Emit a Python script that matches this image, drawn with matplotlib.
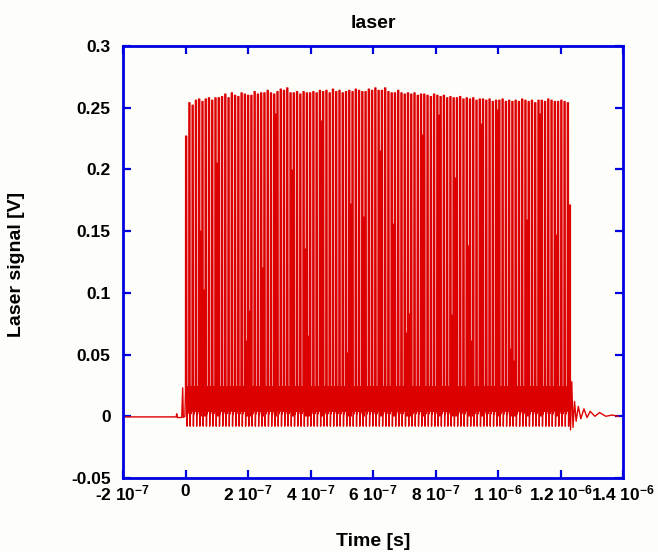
import matplotlib
matplotlib.use("Agg")
import matplotlib.pyplot as plt

plt.rcParams['font.family'] = ['Liberation Sans', 'DejaVu Sans']
plt.rcParams['mathtext.fontset'] = 'custom'
plt.rcParams['mathtext.rm'] = 'Liberation Sans:bold'
plt.rcParams['mathtext.it'] = 'Liberation Sans:bold'
plt.rcParams['mathtext.bf'] = 'Liberation Sans:bold'
plt.rcParams['mathtext.default'] = 'rm'

# ---------------- data ----------------
x_ticks = [-2e-7, 0, 2e-7, 4e-7, 6e-7, 8e-7, 1e-6, 1.2e-6, 1.4e-6]
x_tick_labels = [r'-2 10$^{-7}$', '0', r'2 10$^{-7}$', r'4 10$^{-7}$', r'6 10$^{-7}$',
                 r'8 10$^{-7}$', r'1 10$^{-6}$', r'1.2 10$^{-6}$', r'1.4 10$^{-6}$']
y_ticks = [-0.05, 0, 0.05, 0.1, 0.15, 0.2, 0.25, 0.3]
y_tick_labels = ['-0.05', '0', '0.05', '0.1', '0.15', '0.2', '0.25', '0.3']

pulse_start = 0.0
pulse_period = 10.44e-9
pulse_peaks = [
    0.227, 0.254, 0.252, 0.256, 0.257, 0.255, 0.257, 0.258, 0.256, 0.258,
    0.258, 0.259, 0.261, 0.258, 0.262, 0.260, 0.259, 0.262, 0.261, 0.260,
    0.260, 0.263, 0.261, 0.262, 0.262, 0.264, 0.262, 0.261, 0.263, 0.265,
    0.264, 0.266, 0.262, 0.262, 0.263, 0.261, 0.263, 0.262, 0.262, 0.263,
    0.262, 0.264, 0.263, 0.264, 0.262, 0.265, 0.263, 0.264, 0.262, 0.263,
    0.264, 0.263, 0.265, 0.264, 0.263, 0.263, 0.265, 0.264, 0.266, 0.264,
    0.264, 0.266, 0.263, 0.262, 0.262, 0.264, 0.262, 0.261, 0.262, 0.261,
    0.262, 0.260, 0.261, 0.261, 0.260, 0.259, 0.261, 0.260, 0.259, 0.260,
    0.258, 0.259, 0.258, 0.258, 0.259, 0.257, 0.258, 0.257, 0.258, 0.256,
    0.257, 0.257, 0.256, 0.257, 0.255, 0.256, 0.256, 0.257, 0.255, 0.256,
    0.255, 0.256, 0.255, 0.257, 0.256, 0.255, 0.256, 0.254, 0.256, 0.256,
    0.255, 0.257, 0.256, 0.255, 0.255, 0.256, 0.255, 0.254]
# lower secondary spikes (pulse index, level)
shoulder_index = [4, 5, 9, 18, 19, 23, 27, 32, 36, 37, 41, 49, 50, 54, 59, 63,
                  67, 68, 72, 77, 81, 82, 86, 87, 90, 95, 99, 100, 104, 108, 113, 117]
shoulder_level = [0.151, 0.103, 0.206, 0.062, 0.086, 0.121, 0.246, 0.200, 0.136, 0.066,
                  0.240, 0.052, 0.173, 0.162, 0.216, 0.157, 0.068, 0.084, 0.229, 0.245,
                  0.083, 0.194, 0.139, 0.062, 0.238, 0.249, 0.055, 0.046, 0.160, 0.246,
                  0.148, 0.172]
dip_level = -0.008
ring_levels = [0.022, 0.002, 0.024, 0.004]

pre_t = [-2.0e-7, -3.0e-8, -2.8e-8, -2.6e-8, -1.2e-8, -9e-9, -7e-9, -2e-9]
pre_v = [-0.0005, -0.0005, 0.002, -0.001, -0.001, 0.023, -0.001, 0.0]
post_t = [1.2290e-6, 1.2320e-6, 1.2360e-6, 1.2400e-6, 1.2450e-6, 1.2500e-6, 1.2570e-6,
          1.2650e-6, 1.2750e-6, 1.2850e-6, 1.2950e-6, 1.3100e-6, 1.3250e-6, 1.3450e-6,
          1.3650e-6, 1.3850e-6]
post_v = [0.031, -0.011, 0.028, -0.009, 0.012, -0.004, 0.008, -0.002, 0.006, -0.001,
          0.004, 0.0, 0.003, 0.0, 0.001, 0.0]

# ---------------- build waveform ----------------
shape_fracs = [0.0, 0.04, 0.36, 0.42, 0.56, 0.68, 0.80, 0.92]
t = list(pre_t)
v = list(pre_v)
for k, pk in enumerate(pulse_peaks):
    tk = pulse_start + k * pulse_period
    levels = [0.02, pk, pk, dip_level] + ring_levels
    for f, l in zip(shape_fracs, levels):
        t.append(tk + f * pulse_period)
        v.append(l)
t += post_t
v += post_v

sh_t = [pulse_start + (k + 0.55) * pulse_period for k in shoulder_index]

# ---------------- figure ----------------
W, H = 658, 552
fig = plt.figure(figsize=(W / 100, H / 100), dpi=100, facecolor='#fdfdfa')
L, R, T, B = 123, 623, 46, 478
ax = fig.add_axes([L / W, 1 - B / H, (R - L) / W, (B - T) / H])
ax.set_facecolor('#fdfdfa')

red = '#dd0000'
ax.plot(t, v, color=red, lw=1.0)
ax.vlines(sh_t, 0.0, shoulder_level, color=red, lw=2.3)

ax.set_xlim(-2e-7, 1.4e-6)
ax.set_ylim(-0.05, 0.3)
ax.set_xticks(x_ticks)
ax.set_xticklabels(x_tick_labels)
ax.set_yticks(y_ticks)
ax.set_yticklabels(y_tick_labels)

blue = '#0000e0'
for s in ax.spines.values():
    s.set_color(blue)
    s.set_linewidth(2.0)
ax.tick_params(direction='in', length=6, width=1.6, color=blue,
               top=True, right=True, labelsize=12.5)
ax.tick_params(axis='y', pad=9)
ax.tick_params(axis='x', pad=4)
for lab in ax.get_xticklabels() + ax.get_yticklabels():
    lab.set_fontweight('bold')

fig.text((L + R) / 2 / W, 1 - 24 / H, 'laser', ha='center', va='center',
         fontsize=14, fontweight='bold')
fig.text((L + R) / 2 / W, 1 - 541 / H, 'Time [s]', ha='center', va='center',
         fontsize=14, fontweight='bold')
fig.text(17 / W, 1 - 264 / H, 'Laser signal [V]', ha='center', va='center',
         rotation=90, fontsize=14, fontweight='bold')

fig.savefig('out.png', dpi=100, facecolor=fig.get_facecolor())
